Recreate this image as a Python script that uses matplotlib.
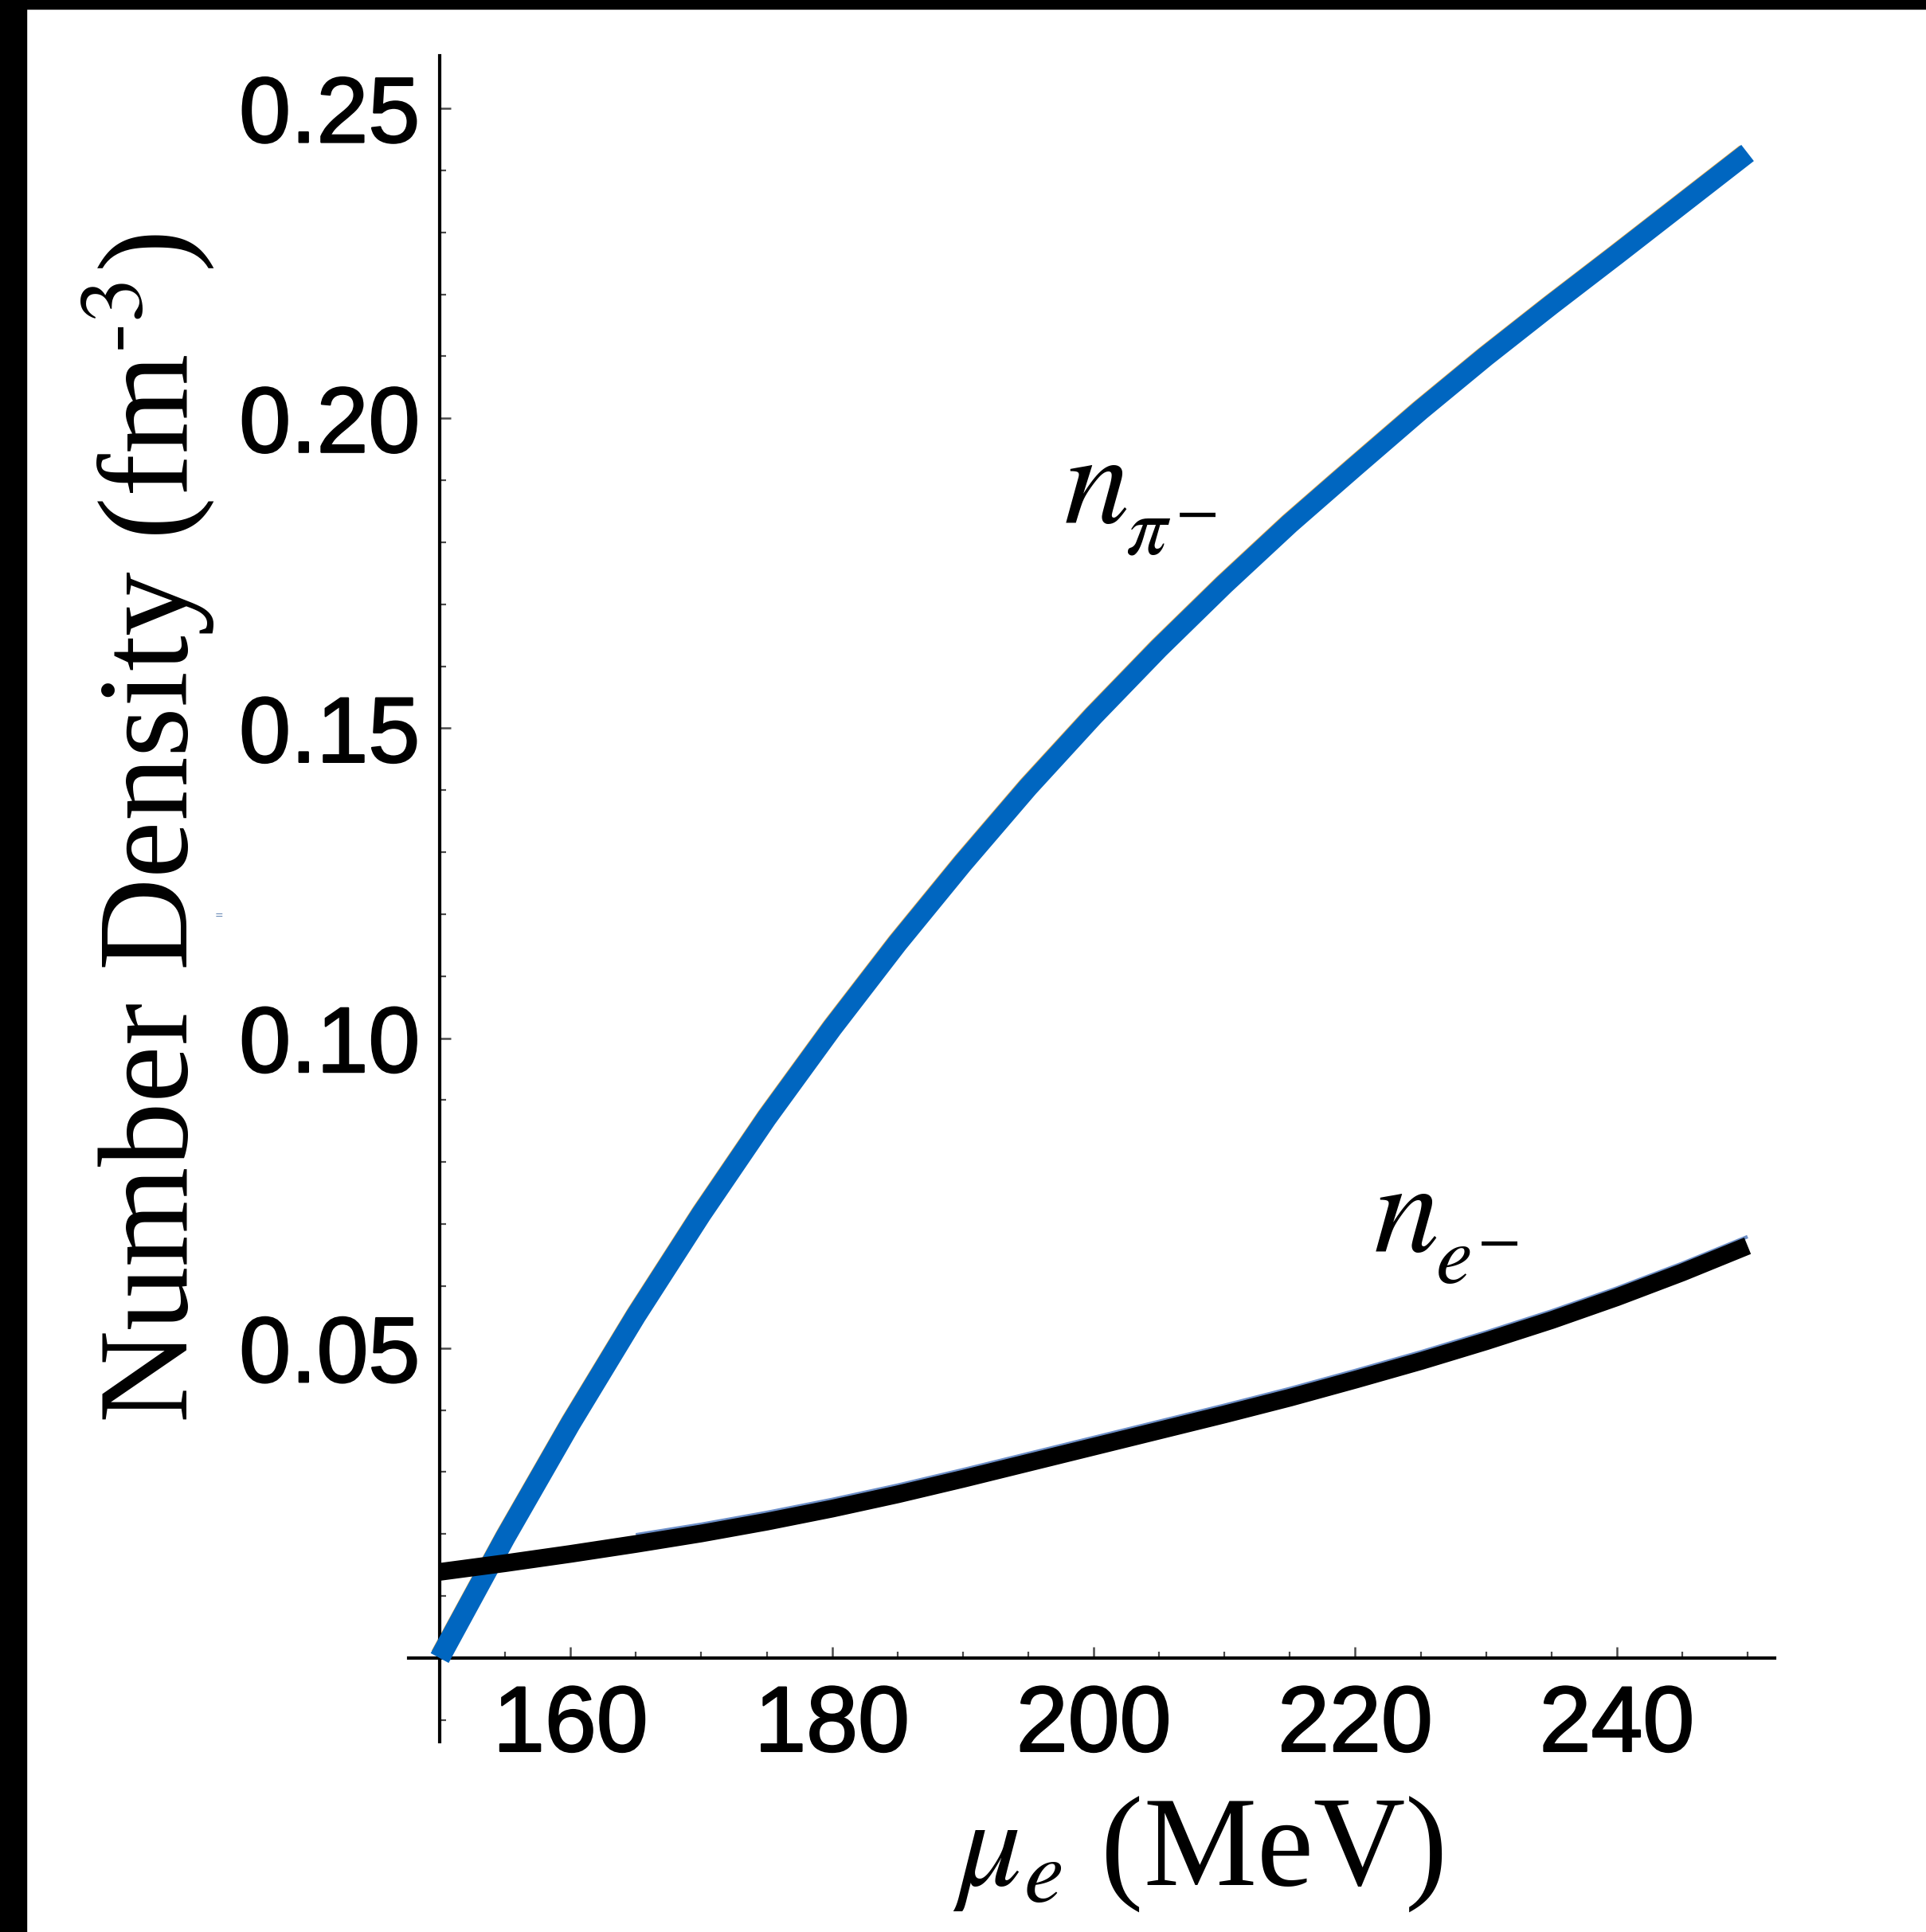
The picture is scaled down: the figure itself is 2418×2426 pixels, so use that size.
import numpy as np
import matplotlib
matplotlib.use("Agg")
import matplotlib.pyplot as plt
import matplotlib.transforms as mtransforms
import matplotlib.patheffects as pe
from matplotlib.patches import Rectangle
from matplotlib.ticker import FixedLocator, MultipleLocator, FormatStrFormatter

plt.rcParams['mathtext.fontset'] = 'stix'

# electron chemical potential (MeV) and number densities (fm^-3)
mu_e = [150, 155, 160, 165, 170, 175, 180, 185, 190, 195, 200,
        205, 210, 215, 220, 225, 230, 235, 240, 245, 250]
n_pi = [0.0000, 0.0194, 0.0378, 0.0552, 0.0716, 0.0871, 0.1016, 0.1153,
        0.1282, 0.1405, 0.1520, 0.1629, 0.1732, 0.1830, 0.1922, 0.2013,
        0.2100, 0.2183, 0.2264, 0.2346, 0.2428]
n_el = [0.0139, 0.0153, 0.0168, 0.0184, 0.0201, 0.0220, 0.0241, 0.0264,
        0.0289, 0.0315, 0.0341, 0.0367, 0.0393, 0.0420, 0.0449, 0.0479,
        0.0511, 0.0545, 0.0582, 0.0622, 0.0665]

x_major = [160, 180, 200, 220, 240]
y_major = [0.05, 0.10, 0.15, 0.20, 0.25]

W, H = 2418, 2426
fig = plt.figure(figsize=(W / 100, H / 100), dpi=100)
fig.patch.set_facecolor('white')

# axes box in pixels: x 513..2228, y 70..2187 (from top)
ax = fig.add_axes([513 / W, 1 - 2187 / H, (2228 - 513) / W, (2187 - 70) / H])
ax.set_xlim(147.625, 252.07)
ax.set_ylim(-0.01349, 0.25848)
ax.patch.set_alpha(0)

mu = np.array(mu_e)
npi = np.array(n_pi)
nel = np.array(n_el)


def shifted(dx_px, dy_px):
    return mtransforms.offset_copy(ax.transData, fig=fig, x=dx_px * 0.72,
                                   y=dy_px * 0.72, units='points')


# thin default-style curves peeking out from under the thick ones
m = mu >= 165
ax.plot(mu[m], nel[m], color='#6d8fc8', lw=3.2, transform=shifted(0, 11.5),
        zorder=1, solid_capstyle='butt')
ax.plot(mu, npi, color='#e6a847', lw=2.0, transform=shifted(-9, 8.5),
        zorder=1, solid_capstyle='butt')

ax.plot(mu, npi, color='#0066c0', lw=18.5, solid_capstyle='butt',
        solid_joinstyle='round', zorder=3)
ax.plot(mu, nel, color='black', lw=16, solid_capstyle='butt',
        solid_joinstyle='round', zorder=4)

# axes crossing at (150, 0)
for s in ['top', 'right']:
    ax.spines[s].set_visible(False)
ax.spines['left'].set_position(('data', 150))
ax.spines['bottom'].set_position(('data', 0))
ax.spines['left'].set_linewidth(3.0)
ax.spines['bottom'].set_linewidth(3.0)

ax.xaxis.set_major_locator(FixedLocator(x_major))
ax.xaxis.set_minor_locator(MultipleLocator(5))
ax.xaxis.set_major_formatter(FormatStrFormatter('%d'))
ax.yaxis.set_major_locator(FixedLocator(y_major))
ax.yaxis.set_minor_locator(MultipleLocator(0.01))
ax.yaxis.set_major_formatter(FormatStrFormatter('%.2f'))

ax.tick_params(which='both', direction='in', color='#4a4a4a')
ax.tick_params(which='major', length=10, width=1.8)
ax.tick_params(which='minor', length=5.5, width=1.6)
ax.tick_params(axis='x', which='major', pad=23, labelsize=84)
ax.tick_params(axis='y', which='major', pad=18, labelsize=84)
for lab in ax.get_xticklabels() + ax.get_yticklabels():
    lab.set_fontfamily('Liberation Sans')
    lab.set_path_effects([pe.withStroke(linewidth=1.6, foreground='black')])

serif = 'Liberation Serif'
fig.text(186 / W, 1 - 1040 / H, r'Number Density (fm$^{\text{-3}}$)',
         rotation=90, ha='center', va='center', fontsize=116, family=serif)
fig.text(1504 / W, 1 - 2328 / H, r'$\mu_e$ (MeV)',
         ha='center', va='center', fontsize=115, family=serif)


def density_label(x, y, sub, minus_dx):
    ax.text(x, y, r'$n$', ha='left', va='baseline', fontsize=119)
    ax.text(x, y, '$' + sub + '$', ha='left', va='baseline', fontsize=74,
            transform=shifted(78, -39))
    ax.text(x, y, r'$-$', ha='left', va='baseline', fontsize=58,
            transform=shifted(minus_dx, -9))


density_label(197.7, 0.1831, r'\pi', 140)
density_label(221.4, 0.0655, r'e', 130)

fig.text(275 / W, 1 - 1150 / H, '=', color='#5a7fb0', fontsize=9,
         ha='center', va='center')

# dark frame strips along the left and top edges
fig.patches.append(Rectangle((0, 0), 33 / W, 1, transform=fig.transFigure,
                             color='black', zorder=10))
fig.patches.append(Rectangle((0, 1 - 11 / H), 1, 11 / H, transform=fig.transFigure,
                             color='black', zorder=10))

fig.savefig('out.png', dpi=100, facecolor='white')
